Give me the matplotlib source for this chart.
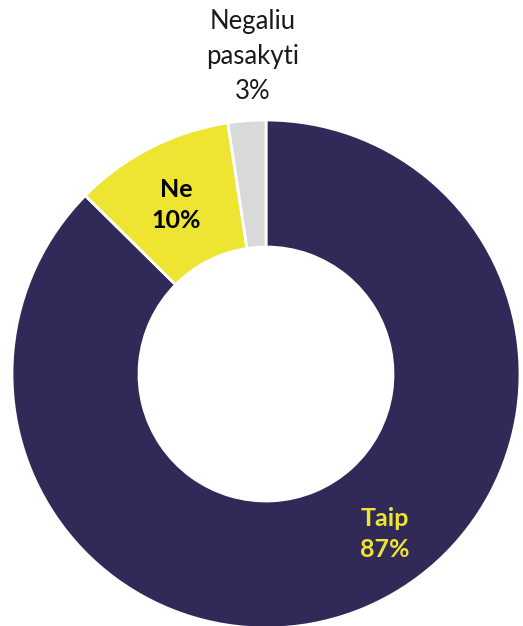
import matplotlib.pyplot as plt

labels = ["Taip", "Ne", "Negaliu\npasakyti"]
values = [87.4, 10.2, 2.4]
pct_labels = ["87%", "10%", "3%"]
colors = ["#312A58", "#EDE531", "#D9D9D9"]

fig = plt.figure(figsize=(5.23, 6.26), dpi=100)
ax = fig.add_axes([12 / 523, -2 / 626, 508 / 523, 508 / 626])

ax.pie(values, colors=colors, startangle=90, counterclock=False, radius=1,
       wedgeprops=dict(width=0.5, edgecolor="white", linewidth=2))
ax.set_xlim(-1, 1)
ax.set_ylim(-1, 1)
ax.set_aspect("equal")
ax.axis("off")

# label positions and styles
ax.text(0.469, -0.63, f"{labels[0]}\n{pct_labels[0]}", ha="center", va="center",
        fontsize=18, fontweight="bold", color="#EDE531", family="Lato", linespacing=1.45)
ax.text(-0.354, 0.665, f"{labels[1]}\n{pct_labels[1]}", ha="center", va="center",
        fontsize=18, fontweight="bold", color="black", family="Lato", linespacing=1.45)
ax.text(-0.051, 1.25, f"{labels[2]}\n{pct_labels[2]}", ha="center", va="center",
        fontsize=18.5, color="#1a1a1a", family="Lato", linespacing=1.5, clip_on=False)

fig.savefig("out.png", dpi=100)
